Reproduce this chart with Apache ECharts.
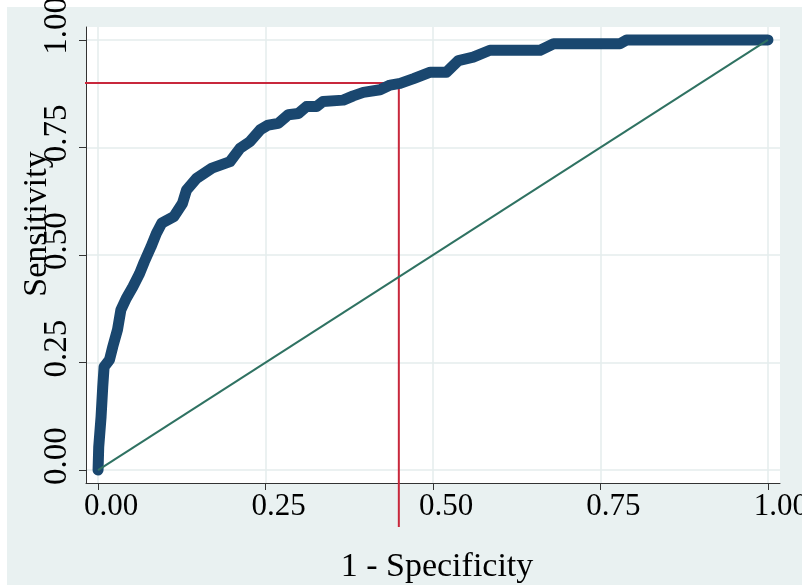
<!DOCTYPE html>
<html>
<head>
<meta charset="utf-8">
<script src="https://cdn.jsdelivr.net/npm/echarts@6/dist/echarts.min.js"></script>
<style>
  html, body { margin: 0; padding: 0; background: #fff; }
  #main { width: 802px; height: 588px; }
</style>
</head>
<body>
<div id="main"></div>
<script>
// ROC curve: 1 - specificity / sensitivity
var fpr = [0, 0.001, 0.0045, 0.007, 0.009, 0.017, 0.022, 0.029, 0.034, 0.042,
  0.052, 0.062, 0.069, 0.079, 0.087, 0.095, 0.113, 0.126, 0.132, 0.147,
  0.170, 0.197, 0.212, 0.227, 0.242, 0.254, 0.269, 0.284, 0.299, 0.311,
  0.326, 0.336, 0.366, 0.381, 0.396, 0.421, 0.436, 0.451, 0.471, 0.496,
  0.520, 0.538, 0.560, 0.585, 0.660, 0.680, 0.779, 0.789, 1.0]
var tpr = [0, 0.054, 0.124, 0.194, 0.240, 0.256, 0.287, 0.326, 0.372, 0.399,
  0.426, 0.457, 0.484, 0.519, 0.550, 0.574, 0.589, 0.620, 0.651, 0.678,
  0.702, 0.717, 0.748, 0.764, 0.791, 0.802, 0.806, 0.826, 0.829, 0.845,
  0.845, 0.857, 0.860, 0.870, 0.878, 0.884, 0.895, 0.899, 0.910, 0.925,
  0.925, 0.952, 0.960, 0.976, 0.976, 0.991, 0.991, 1.0, 1.0]

// reference diagonal and the cut-off guide lines
var diagX = [0, 1]
var diagY = [0, 1]
var cutX = [-0.085, 0.449, 0.449]
var cutY = [0.9, 0.9, -0.132]

var ticks = [0, 0.25, 0.5, 0.75, 1]

var serif = 'Liberation Serif'

function pairs (xs, ys) {
  var out = []
  for (var i = 0; i < xs.length; i++) out.push([xs[i], ys[i]])
  return out
}

var chart = echarts.init(document.getElementById('main'))

var option = {
  animation: false,
  backgroundColor: '#ffffff',
  graphic: [
    {
      type: 'rect',
      z: -10,
      shape: { x: 7, y: 7, width: 795, height: 578 },
      style: { fill: '#e9f1f1' }
    }
  ],
  grid: {
    left: 86,
    right: 22,
    top: 27,
    bottom: 105,
    outerBoundsMode: 'none',
    containLabel: false,
    show: true,
    backgroundColor: '#ffffff',
    borderWidth: 0
  },
  xAxis: {
    type: 'value',
    min: -0.018,
    max: 1.018,
    name: '1 - Specificity',
    nameLocation: 'middle',
    nameGap: 67,
    nameMoveOverlap: false,
    nameTextStyle: { fontFamily: serif, fontSize: 34, color: '#000', padding: [0, 0, 0, 8] },
    axisLine: { show: true, onZero: false, lineStyle: { color: '#333', width: 1 } },
    axisTick: { show: true, length: 7, customValues: ticks, lineStyle: { color: '#333' } },
    axisLabel: {
      customValues: ticks,
      margin: 8,
      padding: [0, 0, 0, 26],
      hideOverlap: false,
      fontFamily: serif,
      fontSize: 31,
      color: '#000',
      formatter: function (v) { return v.toFixed(2) }
    },
    splitLine: { show: true, lineStyle: { color: '#e4eded', width: 1.5 } }
  },
  yAxis: {
    type: 'value',
    min: -0.03,
    max: 1.03,
    name: 'Sensitivity',
    nameLocation: 'middle',
    nameGap: 32,
    nameMoveOverlap: false,
    nameTextStyle: { fontFamily: serif, fontSize: 34, color: '#000', padding: [0, 0, 0, 62] },
    axisLine: { show: true, onZero: false, lineStyle: { color: '#333', width: 1 } },
    axisTick: { show: true, length: 7, customValues: ticks, lineStyle: { color: '#333' } },
    axisLabel: {
      customValues: ticks,
      rotate: 90,
      margin: 12,
      align: 'center',
      verticalAlign: 'bottom',
      padding: [0, 0, 0, 28],
      hideOverlap: false,
      fontFamily: serif,
      fontSize: 33,
      color: '#000',
      formatter: function (v) { return v.toFixed(2) }
    },
    splitLine: { show: true, lineStyle: { color: '#e4eded', width: 1.5 } }
  },
  series: [
    {
      type: 'line',
      data: pairs(cutX, cutY),
      clip: false,
      symbol: 'none',
      lineStyle: { color: '#c8283c', width: 2 },
      z: 2
    },
    {
      type: 'line',
      data: pairs(fpr, tpr),
      symbol: 'none',
      lineStyle: { color: '#1a476f', width: 11, cap: 'round', join: 'round' },
      z: 3
    },
    {
      type: 'line',
      data: pairs(diagX, diagY),
      symbol: 'none',
      lineStyle: { color: '#2f7262', width: 2 },
      z: 4
    }
  ]
}

chart.setOption(option)
</script>
</body>
</html>
